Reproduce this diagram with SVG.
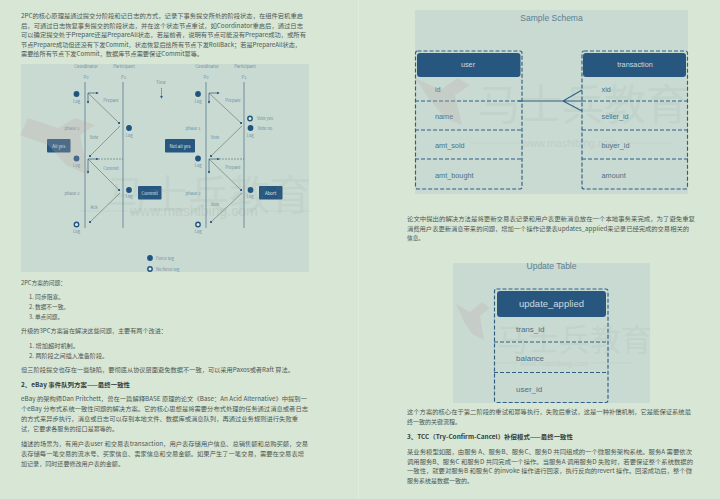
<svg xmlns="http://www.w3.org/2000/svg" width="720" height="499" viewBox="0 0 720 499">
<style>
text{font-family:"Noto Sans CJK SC","Noto Sans","Liberation Sans",sans-serif}
.b{font-size:6px;fill:#4c5752}
.h{font-size:6px;fill:#333c38;font-weight:700}
.l{font-size:4.2px;fill:#6d8ea3;text-anchor:middle}
.d{fill:#1f5480}
.o{fill:#e4eeea;stroke:#1f5480;stroke-width:1.4}
.w{font-size:4.4px;fill:#dce8ee;text-anchor:middle}
.ln{stroke:#7f9aa6;stroke-width:1.2;fill:none}
.s{stroke:#6b8076;stroke-width:.7;fill:none}
.ar{stroke:#2f5a78;stroke-width:.7;fill:none;marker-end:url(#a)}
.f{font-size:7.3px;fill:#4b7188;font-family:"Liberation Sans",sans-serif}
.hd{fill:#27577f}
.ht{font-size:7.3px;fill:#c7dbe4;text-anchor:middle;font-family:"Liberation Sans",sans-serif}
.da{fill:none;stroke:#2f5f83;stroke-width:1.15;stroke-dasharray:4 2}
.wm{fill:#7c8a86;opacity:.08}
.wu{fill:#7c8a86;opacity:.14;font-family:"Liberation Sans",sans-serif}
.wl{stroke:#7c8a86;stroke-width:.6;opacity:.14}
.bird{fill:#b9a9a5;opacity:.26}
</style>
<defs><marker id="a" markerWidth="4" markerHeight="4" refX="3" refY="2" orient="auto"><path d="M0 0L4 2L0 4z" fill="#2f5a78"/></marker></defs>
<rect width="720" height="499" fill="#d8e6d6"/>
<rect x="358" width="1.200" height="499" fill="#e0ebdf"/>

<g id="text-left">
<text class="b" x="21" y="18" textLength="282" lengthAdjust="spacingAndGlyphs">2PC的核心原理是通过提交分阶段和记日志的方式，记录下事务提交所处的阶段状态，在组件宕机重启</text>
<text class="b" x="21" y="27.500" textLength="282" lengthAdjust="spacingAndGlyphs">后，可通过日志恢复事务提交的阶段状态，并在这个状态节点重试，如Coordinator重启后，通过日志</text>
<text class="b" x="21" y="37" textLength="285" lengthAdjust="spacingAndGlyphs">可以确定提交处于Prepare还是PrepareAll状态，若是前者，说明有节点可能没有Prepare成功，或所有</text>
<text class="b" x="21" y="46.500" textLength="280" lengthAdjust="spacingAndGlyphs">节点Prepare成功但还没有下发Commit，状态恢复后给所有节点下发RollBack；若是PrepareAll状态，</text>
<text class="b" x="21" y="56" textLength="182" lengthAdjust="spacingAndGlyphs">需要给所有节点下发Commit，数据库节点需要保证Commit幂等。</text>
<text class="b" x="21" y="285" textLength="45" lengthAdjust="spacingAndGlyphs">2PC方案的问题：</text>
<text class="b" x="29" y="299" textLength="35" lengthAdjust="spacingAndGlyphs">1. 同步阻塞。</text>
<text class="b" x="29" y="309" textLength="40" lengthAdjust="spacingAndGlyphs">2. 数据不一致。</text>
<text class="b" x="29" y="318.500" textLength="34" lengthAdjust="spacingAndGlyphs">3. 单点问题。</text>
<text class="b" x="21" y="333" textLength="146" lengthAdjust="spacingAndGlyphs">升级的3PC方案旨在解决这些问题，主要有两个改进：</text>
<text class="b" x="29" y="348" textLength="50" lengthAdjust="spacingAndGlyphs">1. 增加超时机制。</text>
<text class="b" x="29" y="357.500" textLength="79" lengthAdjust="spacingAndGlyphs">2. 两阶段之间插入准备阶段。</text>
<text class="b" x="21" y="372" textLength="273" lengthAdjust="spacingAndGlyphs">但三阶段提交也存在一些缺陷，要彻底从协议层面避免数据不一致，可以采用Paxos或者Raft 算法。</text>
<text class="h" x="21" y="387" textLength="109" lengthAdjust="spacingAndGlyphs">2、eBay 事件队列方案——最终一致性</text>
<text class="b" x="21" y="401" textLength="286" lengthAdjust="spacingAndGlyphs">eBay 的架构师Dan Pritchett，曾在一篇解释BASE 原理的论文《Base：An Acid Alternative》中提到一</text>
<text class="b" x="21" y="411" textLength="287" lengthAdjust="spacingAndGlyphs">个eBay 分布式系统一致性问题的解决方案。它的核心思想是将需要分布式处理的任务通过消息或者日志</text>
<text class="b" x="21" y="421" textLength="277" lengthAdjust="spacingAndGlyphs">的方式来异步执行，消息或日志可以存到本地文件、数据库或消息队列，再通过业务规则进行失败重</text>
<text class="b" x="21" y="431" textLength="97" lengthAdjust="spacingAndGlyphs">试，它要求各服务的接口是幂等的。</text>
<text class="b" x="21" y="446" textLength="287" lengthAdjust="spacingAndGlyphs">描述的场景为，有用户表user 和交易表transaction，用户表存储用户信息、总销售额和总购买额，交易</text>
<text class="b" x="21" y="456" textLength="283" lengthAdjust="spacingAndGlyphs">表存储每一笔交易的流水号、买家信息、卖家信息和交易金额。如果产生了一笔交易，需要在交易表增</text>
<text class="b" x="21" y="466" textLength="103" lengthAdjust="spacingAndGlyphs">加记录，同时还要修改用户表的金额。</text>
</g>

<g id="text-right">
<text class="b" x="407" y="221" textLength="288" lengthAdjust="spacingAndGlyphs">论文中提出的解决方法是将更新交易表记录和用户表更新消息放在一个本地事务来完成，为了避免重复</text>
<text class="b" x="407" y="231" textLength="282" lengthAdjust="spacingAndGlyphs">消费用户表更新消息带来的问题，增加一个操作记录表updates_applied来记录已经完成的交易相关的</text>
<text class="b" x="407" y="240" textLength="17" lengthAdjust="spacingAndGlyphs">信息。</text>
<text class="b" x="407" y="414" textLength="284" lengthAdjust="spacingAndGlyphs">这个方案的核心在于第二阶段的重试和幂等执行，失败后重试，这是一种补偿机制，它是能保证系统最</text>
<text class="b" x="407" y="424" textLength="54" lengthAdjust="spacingAndGlyphs">终一致的关键流程。</text>
<text class="h" x="407" y="439" textLength="166" lengthAdjust="spacingAndGlyphs">3、TCC（Try-Confirm-Cancel）补偿模式——最终一致性</text>
<text class="b" x="407" y="454" textLength="285" lengthAdjust="spacingAndGlyphs">某业务模型如图，由服务 A、服务B、服务C、服务D 共同组成的一个微服务架构系统。服务A 需要依次</text>
<text class="b" x="407" y="463.500" textLength="286" lengthAdjust="spacingAndGlyphs">调用服务B、服务C 和服务D 共同完成一个操作。当服务A 调用服务D 失败时，若要保证整个系统数据的</text>
<text class="b" x="407" y="473" textLength="285" lengthAdjust="spacingAndGlyphs">一致性，就要对服务B 和服务C 的invoke 操作进行回滚，执行反向的revert 操作。回滚成功后，整个微</text>
<text class="b" x="407" y="483" textLength="66" lengthAdjust="spacingAndGlyphs">服务系统是数据一致的。</text>
</g>

<g id="diagram-2pc">
<rect x="21" y="64" width="288" height="208" fill="#c9dad2"/>
<g>
<text class="l" x="86" y="67.500">Coordinator</text><text class="l" x="124" y="67.500">Participant</text>
<text class="l" x="86" y="79">P0</text><text class="l" x="123.500" y="79">P1</text>
<text class="l" x="161" y="83.500">Time</text>
<text class="l" x="207" y="67.500">Coordinator</text><text class="l" x="245" y="67.500">Participant</text>
<text class="l" x="206" y="79">P0</text><text class="l" x="244" y="79">P1</text>
<text class="l" x="72" y="129.500">phase 1</text><text class="l" x="72" y="194.500">phase 2</text>
<text class="l" x="193" y="129.500">phase 1</text><text class="l" x="193" y="194.500">phase 2</text>
<text class="l" x="111" y="101.500">Prepare</text><text class="l" x="94" y="138.500">Vote</text>
<text class="l" x="111" y="169.500">Commit</text><text class="l" x="94" y="208.500">Ack</text>
<text class="l" x="233" y="101.500">Prepare</text><text class="l" x="215" y="138.500">Vote</text>
<text class="l" x="233" y="168.500">Prepare</text><text class="l" x="215" y="205.500">Vote</text>
<text class="l" x="265" y="119.500">Vote yes</text><text class="l" x="265" y="129.500">Vote no</text>
<text class="l" x="76.500" y="102.500">Log</text><text class="l" x="76.500" y="166.500">Log</text><text class="l" x="76.500" y="232.500">Log</text>
<text class="l" x="129" y="136.500">Log</text><text class="l" x="129" y="197.500">Log</text>
<text class="l" x="198" y="102.500">Log</text><text class="l" x="198" y="166.500">Log</text><text class="l" x="198" y="232.500">Log</text>
<text class="l" x="250" y="136.500">Log</text><text class="l" x="250" y="197.500">Log</text>
<text class="l" x="156" y="259.500" style="text-anchor:start">Force log</text>
<text class="l" x="156" y="270.500" style="text-anchor:start">No force log</text>
</g>
<g id="connectors-2pc">
<path class="ln" d="M85 82V228M123 82V228M206 82V228M244 82V228"/>
<path class="ar" d="M161.500 88V98" stroke-dasharray="1.500 .7"/>
<path class="s" d="M88 93L119 123M120 126L90 156M88 159L119 190M120 193L90 222"/>
<path class="s" d="M209 93L241 123M242 126L211 156M209 159L241 190M242 193L211 222"/>
<path class="ar" d="M88 93H98"/><path class="ar" d="M88 93V103"/>
<path class="ar" d="M88 159H98"/><path class="ar" d="M88 159V173"/>
<path class="ar" d="M209 93H219"/><path class="ar" d="M209 93V103"/>
<path class="ar" d="M209 159H219"/><path class="ar" d="M209 159V173"/>
<path d="M98 159H123M219 159H244" stroke="#4f6f70" stroke-width=".6" stroke-dasharray="2 1" fill="none"/>
<path d="M119 123h.1M90 156h.1M119 190h.1M90 222h.1M241 123h.1M211 156h.1M241 190h.1M211 222h.1" stroke="#2f5a78" stroke-width="1.800" stroke-linecap="square"/>
</g>
<g id="log-marks">
<circle class="d" cx="76.500" cy="94" r="2.900"/><circle class="d" cx="76.500" cy="158.500" r="2.900"/><circle class="o" cx="76.500" cy="224.500" r="2.200"/>
<circle class="d" cx="129" cy="128" r="2.900"/><circle class="d" cx="129" cy="190" r="2.900"/>
<circle class="d" cx="198" cy="94" r="2.900"/><circle class="d" cx="198" cy="158.500" r="2.900"/><circle class="o" cx="198" cy="224.500" r="2.200"/>
<circle class="o" cx="250" cy="118.500" r="2.200"/><circle class="d" cx="250.500" cy="128" r="2.900"/><circle class="d" cx="250.500" cy="190" r="2.900"/>
<circle class="d" cx="150" cy="258" r="2.900"/><circle class="o" cx="150" cy="269" r="2.200"/>
</g>
<g id="all-yes"><rect class="hd" x="47" y="139" width="23.500" height="13.500" rx="1"/><text class="w" x="58.800" y="147.500">All yes</text></g>
<g id="not-all-yes"><rect class="hd" x="165" y="139" width="30" height="13.500" rx="1"/><text class="w" x="180" y="147.500">Not all yes</text></g>
<g id="commit"><rect class="hd" x="138" y="186" width="23.500" height="13.500" rx="1"/><text class="w" x="149.700" y="194.500">Commit</text></g>
<g id="abort"><rect class="hd" x="259" y="186" width="23.500" height="13.500" rx="1"/><text class="w" x="270.700" y="194.500">Abort</text></g>
</g>

<g id="sample-schema">
<rect x="415" y="10" width="273" height="184" fill="#c9dad2"/>
<text x="551.500" y="20.500" text-anchor="middle" style="font-size:8.500px;fill:#5b7f92;font-family:'Liberation Sans',sans-serif">Sample Schema</text>
<g id="user">
<rect class="hd" x="417" y="53" width="103.500" height="24" rx="3"/>
<rect class="da" x="415.500" y="51" width="106.500" height="138" rx="2"/>
<path class="da" d="M415 101H522M415 130H522M415 159H522"/>
<text class="ht" x="468" y="67">user</text>
<text class="f" x="435" y="92">id</text><text class="f" x="435" y="119">name</text><text class="f" x="435" y="148">amt_sold</text><text class="f" x="435" y="178">amt_bought</text>
</g>
<g id="transaction">
<rect class="hd" x="583" y="53" width="103" height="24" rx="3"/>
<rect class="da" x="582" y="51" width="105.500" height="138" rx="2"/>
<path class="da" d="M582 101H688M582 130H688M582 159H688"/>
<text class="ht" x="635" y="67">transaction</text>
<text class="f" x="601.500" y="92">xid</text><text class="f" x="601.500" y="119">seller_id</text><text class="f" x="601.500" y="148">buyer_id</text><text class="f" x="601.500" y="178">amount</text>
</g>
<g id="connectors-schema"><path d="M518 101H582M563 101L582 90M563 101L582 111" fill="none" stroke="#2f5f83" stroke-width="1.100"/></g>
</g>

<g id="update-table">
<rect x="453" y="263" width="197" height="140" fill="#c9dad2"/>
<text x="551.500" y="269" text-anchor="middle" style="font-size:8.500px;fill:#5b7f92;font-family:'Liberation Sans',sans-serif">Update Table</text>
<g id="update-applied">
<rect class="hd" x="497" y="291" width="109" height="26" rx="3"/>
<rect class="da" x="494.500" y="289" width="113.500" height="113.500" rx="2"/>
<path class="da" d="M494 342H608M494 372.500H608"/>
<text class="ht" x="551.500" y="306.500" style="font-size:9.500px">update_applied</text>
<text class="f" x="516" y="332" style="font-size:8px">trans_id</text><text class="f" x="516" y="361" style="font-size:8px">balance</text><text class="f" x="516" y="392" style="font-size:8px">user_id</text>
</g>
</g>

<g id="watermarks">
<path class="bird" d="M28 118L58 128L75 118L95 125L80 135L88 175L66 165L48 145L20 135Z"/>
<path class="bird" d="M415 78L440 90L458 78L470 85L455 95L462 125L445 118L430 100Z"/>
<path class="bird" d="M456 304L470 312L482 302L490 308L480 316L484 340L472 334L464 322Z"/>
<text class="wm" x="106" y="210" style="font-size:41px">马士兵教育</text>
<text class="wm" x="478" y="120" style="font-size:42px">马士兵教育</text>
<text class="wm" x="497" y="351" style="font-size:31px">马士兵教育</text>
<text class="wu" x="130" y="216" style="font-size:14px">www.mashibing.com</text>
<text class="wu" x="522" y="147" style="font-size:10.500px">www.mashibing.com</text>
<text class="wu" x="520" y="366" style="font-size:7.500px">www.mashibing.com</text>
<path class="wl" d="M80 211H128M265 211H310M470 143H520M620 143H672M492 363H518M590 363H632"/>
</g>
</svg>
